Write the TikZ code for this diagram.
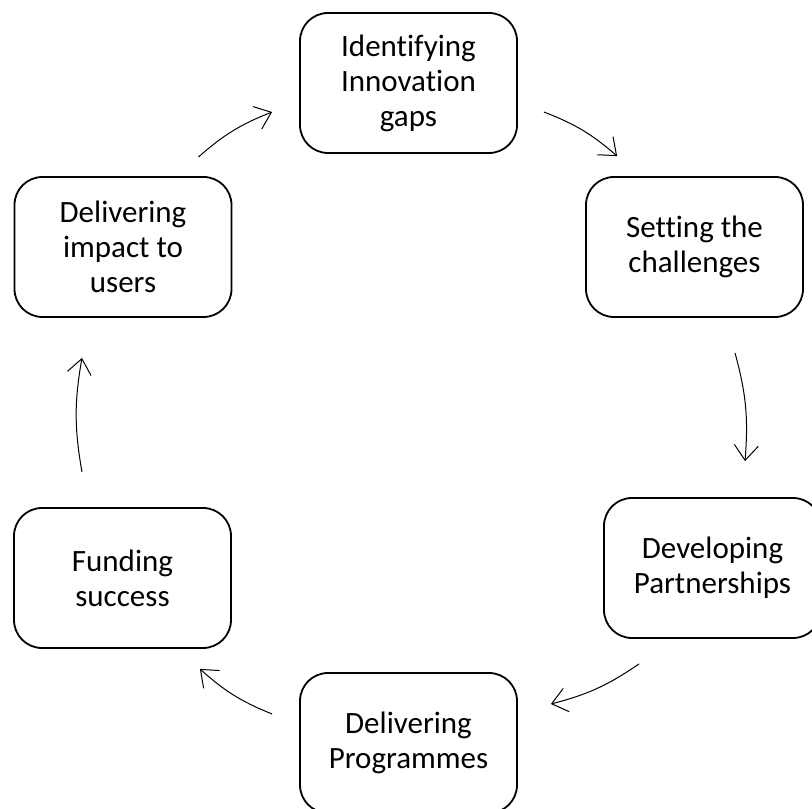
\documentclass[tikz,border=0pt]{standalone}
\usepackage{fontspec}
\setmainfont[Ligatures=NoCommon]{Carlito}
\usetikzlibrary{arrows.meta}

\tikzset{
  stage/.style={draw, line width=1.8pt, rounded corners=28pt, minimum width=217pt,
    minimum height=140pt, inner sep=0pt, align=center, font=\fontsize{31}{35}\selectfont},
  cycarrow/.style={line width=1pt, -{Straight Barb[length=15pt,width=24pt]}, bend left=10}
}

\begin{document}
\begin{tikzpicture}[x=1pt, y=1pt]
            \useasboundingbox (0,0) rectangle (812,809);
            %\draw (0,0) rectangle (812,809);
            \node[stage] (gaps) at (408.5,726) {Identifying\\Innovation\\gaps};
            \node[stage] (challenges) at (694.5,562) {Setting the\\challenges};
            \node[stage] (partners) at (712.5,241) {Developing\\Partnerships};
            \node[stage] (programmes) at (408.5,66) {Delivering\\Programmes};
            \node[stage] (funding) at (122.5,231) {Funding\\success};
            \node[stage] (impact) at (123,562) {Delivering\\impact to\\users};

            \draw[cycarrow] ([xshift=-34pt,yshift=19pt]impact.north east) to ([xshift=-27pt,yshift=-29pt]gaps.west);
            \draw[cycarrow] ([xshift=26pt,yshift=-29pt]gaps.east) to ([xshift=32pt,yshift=20pt]challenges.north west);
            \draw[cycarrow] ([xshift=40.5pt,yshift=-35pt]challenges.south) to ([xshift=32.5pt,yshift=36pt]partners.north);
            \draw[cycarrow] ([xshift=36pt,yshift=-25pt]partners.south west) to ([xshift=33pt,yshift=39pt]programmes.east);
            \draw[cycarrow] ([xshift=-27pt,yshift=29pt]programmes.west) to ([xshift=-32pt,yshift=-20pt]funding.south east);
            \draw[cycarrow] ([xshift=-40.5pt,yshift=35pt]funding.north) to ([xshift=-41pt,yshift=-40pt]impact.south);

            \end{tikzpicture}
\end{document}
